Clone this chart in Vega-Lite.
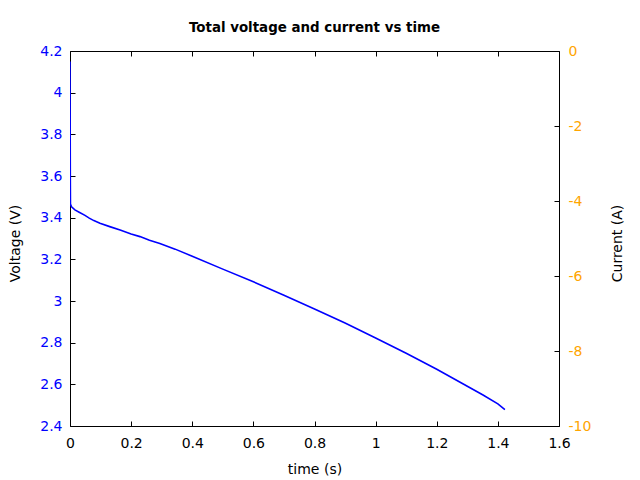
{
  "$schema": "https://vega.github.io/schema/vega-lite/v6.json",
  "width": 489,
  "height": 375,
  "autosize": {"type": "none"},
  "padding": {"left": 70, "top": 51, "right": 81, "bottom": 54},
  "background": "white",
  "title": {
    "text": "Total voltage and current vs time",
    "font": "DejaVu Sans",
    "fontSize": 13.4,
    "fontWeight": "bold",
    "color": "black",
    "anchor": "middle",
    "offset": 10
  },
  "config": {
    "view": {"stroke": null},
    "axis": {
      "grid": false,
      "domainColor": "black",
      "domainWidth": 1,
      "tickColor": "black",
      "tickSize": -5,
      "labelFlush": false,
      "labelOverlap": false,
      "labelFont": "DejaVu Sans",
      "labelFontSize": 14,
      "titleFont": "DejaVu Sans",
      "titleFontSize": 14,
      "titleFontWeight": "normal",
      "titleColor": "black"
    }
  },
  "data": {
    "values": [
      {"time": 0.0, "voltage": 4.15, "current": null},
      {"time": 0.0005, "voltage": 3.9, "current": null},
      {"time": 0.001, "voltage": 3.6, "current": null},
      {"time": 0.0015, "voltage": 3.465, "current": null},
      {"time": 0.005, "voltage": 3.452, "current": null},
      {"time": 0.016, "voltage": 3.437, "current": null},
      {"time": 0.03, "voltage": 3.426, "current": null},
      {"time": 0.049, "voltage": 3.411, "current": null},
      {"time": 0.063, "voltage": 3.398, "current": null},
      {"time": 0.078, "voltage": 3.386, "current": null},
      {"time": 0.098, "voltage": 3.373, "current": null},
      {"time": 0.13, "voltage": 3.357, "current": null},
      {"time": 0.164, "voltage": 3.341, "current": null},
      {"time": 0.2, "voltage": 3.322, "current": null},
      {"time": 0.229, "voltage": 3.309, "current": null},
      {"time": 0.26, "voltage": 3.292, "current": null},
      {"time": 0.294, "voltage": 3.276, "current": null},
      {"time": 0.344, "voltage": 3.249, "current": null},
      {"time": 0.4, "voltage": 3.215, "current": null},
      {"time": 0.5, "voltage": 3.153, "current": null},
      {"time": 0.6, "voltage": 3.092, "current": null},
      {"time": 0.7, "voltage": 3.028, "current": null},
      {"time": 0.8, "voltage": 2.962, "current": null},
      {"time": 0.9, "voltage": 2.894, "current": null},
      {"time": 1.0, "voltage": 2.822, "current": null},
      {"time": 1.1, "voltage": 2.749, "current": null},
      {"time": 1.2, "voltage": 2.672, "current": null},
      {"time": 1.3, "voltage": 2.591, "current": null},
      {"time": 1.35, "voltage": 2.55, "current": null},
      {"time": 1.4, "voltage": 2.506, "current": null},
      {"time": 1.423, "voltage": 2.479, "current": null}
    ]
  },
  "layer": [
    {
      "mark": {"type": "line", "color": "#0000FF", "strokeWidth": 1.6, "clip": true},
      "encoding": {
        "x": {
          "field": "time",
          "type": "quantitative",
          "scale": {"domain": [0, 1.6], "nice": false, "zero": false},
          "axis": {
            "orient": "bottom",
            "title": "time (s)",
            "values": [0, 0.2, 0.4, 0.6, 0.8, 1.0, 1.2, 1.4, 1.6],
            "format": ".1~f",
            "labelColor": "black",
            "labelPadding": 15,
            "titleX": 244.5,
            "titleY": 43,
            "titleBaseline": "middle",
            "titleAnchor": null
          }
        },
        "y": {
          "field": "voltage",
          "type": "quantitative",
          "scale": {"domain": [2.4, 4.2], "nice": false, "zero": false},
          "axis": {
            "orient": "left",
            "title": "Voltage (V)",
            "values": [2.4, 2.6, 2.8, 3.0, 3.2, 3.4, 3.6, 3.8, 4.0, 4.2],
            "format": ".2~f",
            "labelColor": "#0000FF",
            "labelPadding": 13,
            "titleX": -55,
            "titleY": 192,
            "titleAngle": -90,
            "titleBaseline": "middle",
            "titleAlign": "center"
          }
        }
      }
    },
    {
      "mark": {"type": "line", "color": "#FFA500", "strokeWidth": 1.5, "clip": true},
      "encoding": {
        "x": {
          "field": "time",
          "type": "quantitative",
          "scale": {"domain": [0, 1.6], "nice": false, "zero": false},
          "axis": {
            "orient": "top",
            "title": null,
            "labels": false,
            "values": [0, 0.2, 0.4, 0.6, 0.8, 1.0, 1.2, 1.4, 1.6]
          }
        },
        "y": {
          "field": "current",
          "type": "quantitative",
          "scale": {"domain": [-10, 0], "nice": false, "zero": false},
          "axis": {
            "orient": "right",
            "title": "Current (A)",
            "values": [-10, -8, -6, -4, -2, 0],
            "labelExpr": "'' + datum.value",
            "labelColor": "#FFA500",
            "labelPadding": 14,
            "titleX": 58,
            "titleY": 192,
            "titleAngle": -90,
            "titleBaseline": "middle",
            "titleAlign": "center"
          }
        }
      }
    }
  ],
  "resolve": {"scale": {"x": "independent", "y": "independent"}}
}
